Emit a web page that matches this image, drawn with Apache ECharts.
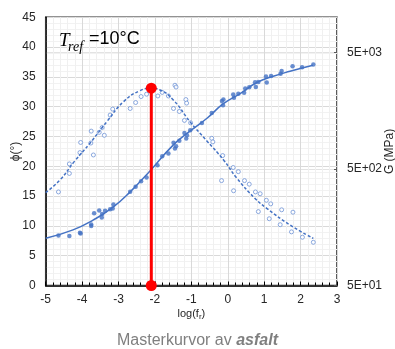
<!DOCTYPE html>
<html><head><meta charset="utf-8">
<script src="https://cdn.jsdelivr.net/npm/echarts@6/dist/echarts.min.js"></script>
<style>html,body{margin:0;padding:0;background:#fff}#c{width:395px;height:349px}</style>
</head><body><div id="c"></div>
<script>
// log(f_r) axis
const xTicks = [-5, -4, -3, -2, -1, 0, 1, 2, 3];
// phase angle phi (deg) - measured points (open circles)
const phiPoints = [
  [-4.65,15.7],[-4.35,18.8],[-4.35,20.4],[-4.06,22.3],[-4.04,24.0],[-3.76,23.9],[-3.69,21.9],
  [-3.75,25.9],[-3.53,25.7],[-3.45,26.5],[-3.39,25.2],[-3.23,28.6],[-3.16,29.6],[-2.68,29.7],
  [-2.53,30.7],[-2.38,31.7],[-2.23,32.1],[-1.92,31.8],[-1.80,32.4],[-1.63,31.8],[-1.45,33.6],
  [-1.42,33.3],[-1.15,31.2],[-1.13,30.6],[-1.49,29.7],[-1.33,29.2],[-1.19,27.7],[-1.02,27.3],
  [-0.44,24.7],[-0.41,24.1],[-0.14,21.8],[0.15,19.8],[0.29,19.1],[-0.17,17.6],[0.46,17.6],
  [0.59,17.0],[0.16,15.9],[0.76,15.7],[0.89,15.4],[1.06,14.3],[1.18,13.7],[0.84,12.4],
  [1.48,12.7],[1.79,12.3],[1.14,11.2],[1.44,10.2],[1.75,9.0],[2.05,8.1],[2.35,7.25]
];
// phase angle model curve (dashed)
const phiCurve = [
  [-5,15.6],[-4.61,17.7],[-4.2,20.9],[-3.78,23.9],[-3.32,27.5],[-2.87,30.8],[-2.41,32.7],
  [-2.1,33.1],[-1.86,32.8],[-1.49,31.1],[-1.04,27.5],[-0.58,24.3],[-0.12,21.1],[0.25,18.0],
  [0.75,14.6],[1.07,12.95],[1.71,10.15],[2.35,7.9]
];
// dynamic modulus G (MPa) - measured points (filled dots)
const gPoints = [
  [-4.65,134],[-4.35,133],[-4.06,142],[-4.04,140],[-3.75,162],[-3.75,167],[-3.67,208],
  [-3.53,220],[-3.46,192],[-3.45,205],[-3.37,219],[-3.23,226],[-3.16,229],[-3.14,248],
  [-2.68,318],[-2.53,351],[-2.38,393],[-2.23,423],[-1.93,539],[-1.80,644],[-1.63,679],
  [-1.49,837],[-1.45,749],[-1.42,784],[-1.33,871],[-1.19,1019],[-1.14,913],[-1.12,974],
  [-1.03,1075],[-0.71,1242],[-0.44,1512],[-0.16,1917],[-0.13,1761],[-0.12,1970],[0.15,2179],
  [0.17,2042],[0.29,2205],[0.45,2253],[0.48,2448],[0.59,2511],[0.75,2773],[0.77,2526],
  [0.84,2790],[1.05,3102],[1.07,2756],[1.19,3133],[1.45,3272],[1.48,3464],[1.78,3801],
  [2.04,3727],[2.35,3930]
];
// G model curve (solid)
const gCurve = [
  [-5,127],[-4.25,150],[-3.70,182],[-3.15,235],[-2.68,318],[-2.13,483],[-1.50,800],
  [-1.04,1054],[-0.57,1362],[-0.12,1814],[0.34,2218],[0.80,2756],[1.25,3121],[1.71,3443],[2.34,3877]
];
// peak marker (log f_r, phi)
const peak = [[-2.1, 0], [-2.1, 33.1]];
// right axis tick values (MPa)
const gTicks = [50, 500, 5000];
const gMin = 50, gMax = 10000;

const L = Math.log10;
const toLog = a => a.map(p => [p[0], L(p[1])]);
const blue = '#4472C4';
const txt = '#262626';
const font = 'Liberation Sans, Arial, sans-serif';

const chart = echarts.init(document.getElementById('c'));
chart.setOption({
  animation: false,
  grid: {left: 45.7, right: 58, top: 17.3, bottom: 63.5, show: true, borderColor: '#262626', borderWidth: 1.5,
         containLabel: false, outerBoundsMode: 'none'},
  xAxis: {
    type: 'value', min: xTicks[0], max: xTicks[xTicks.length-1], interval: 1,
    name: 'log(f{s|r})', nameLocation: 'middle', nameGap: 21, nameMoveOverlap: false,
    nameTextStyle: {color: txt, fontSize: 11, fontFamily: font, rich: {s: {fontSize: 8, padding: [6,0,0,0], color: txt, fontFamily: font}}},
    axisLine: {show: true, onZero: false, lineStyle: {color: '#000', width: 1.5}},
    axisTick: {show: true, inside: true, length: 4, lineStyle: {color: '#000'}},
    minorTick: {show: true, splitNumber: 5, length: 3, lineStyle: {color: '#000'}},
    axisLabel: {color: txt, fontSize: 12, fontFamily: font, margin: 8},
    splitLine: {show: true, lineStyle: {color: '#d9d9d9', width: 1}},
    minorSplitLine: {show: true, lineStyle: {color: '#f0f0f0', width: 1}}
  },
  yAxis: [{
    type: 'value', min: 0, max: 45, interval: 5,
    name: 'ϕ(°)', nameLocation: 'middle', nameGap: 24, nameMoveOverlap: false,
    nameTextStyle: {color: txt, fontSize: 12, fontFamily: font},
    axisLine: {show: true, onZero: false, lineStyle: {color: '#000', width: 1.5}},
    axisTick: {show: false},
    axisLabel: {color: txt, fontSize: 12, fontFamily: font, margin: 10},
    splitLine: {show: true, lineStyle: {color: '#d9d9d9', width: 1}},
    minorTick: {show: false, splitNumber: 5},
    minorSplitLine: {show: true, lineStyle: {color: '#f2f2f2', width: 1}}
  }, {
    type: 'value', min: L(gMin), max: L(gMax), position: 'right',
    name: 'G (MPa)', nameLocation: 'middle', nameGap: 47, nameRotate: 90, nameMoveOverlap: false,
    nameTextStyle: {color: txt, fontSize: 12, fontFamily: font},
    axisLine: {show: false, onZero: false},
    axisTick: {show: true, inside: true, length: 3, customValues: gTicks.map(L), lineStyle: {color: '#595959'}},
    axisLabel: {color: txt, fontSize: 12, fontFamily: font, margin: 10, customValues: gTicks.map(L),
      formatter: v => { const e = Math.round(v - L(5)); return '5E+' + String(e).padStart(2, '0'); }},
    splitLine: {show: true, lineStyle: {color: '#e3e3e3', width: 1}}
  }],
  series: [
    {type: 'line', data: phiCurve, yAxisIndex: 0, smooth: true, symbol: 'none',
     lineStyle: {color: blue, width: 1.5, type: [3, 2]}},
    {type: 'line', data: toLog(gCurve), yAxisIndex: 1, smooth: true, symbol: 'none',
     lineStyle: {color: blue, width: 1.5}},
    {type: 'scatter', data: phiPoints, yAxisIndex: 0, symbol: 'circle', symbolSize: 4,
     itemStyle: {color: '#fff', borderColor: '#6f93d6', borderWidth: 1}},
    {type: 'scatter', data: toLog(gPoints), yAxisIndex: 1, symbol: 'circle', symbolSize: 4.5,
     itemStyle: {color: blue}},
    {type: 'line', data: peak, yAxisIndex: 0, symbol: 'circle', symbolSize: 11, clip: false, z: 10,
     lineStyle: {color: '#ff0000', width: 3}, itemStyle: {color: '#ff0000'}}
  ],
  graphic: [
    {type: 'text', left: 59, top: 31, z: 20, style: {text: 'T', font: 'italic 19px "Liberation Serif", serif', fill: '#000'}},
    {type: 'text', left: 68, top: 40, z: 20, style: {text: 'ref', font: 'italic 14px "Liberation Serif", serif', fill: '#000'}},
    {type: 'text', left: 89, top: 30, z: 20, style: {text: '=10°C', font: '18px "Liberation Sans", Arial, sans-serif', fill: '#000'}},
    {type: 'text', left: 'center', top: 333, z: 20, style: {
      text: '{n|Masterkurvor av }{b|asfalt}',
      rich: {n: {fontSize: 16, fontFamily: font, fill: '#7f7f7f', color: '#7f7f7f'},
             b: {fontSize: 16, fontFamily: font, fontWeight: 'bold', fontStyle: 'italic', fill: '#7f7f7f', color: '#7f7f7f'}}
    }}
  ]
});
</script></body></html>
